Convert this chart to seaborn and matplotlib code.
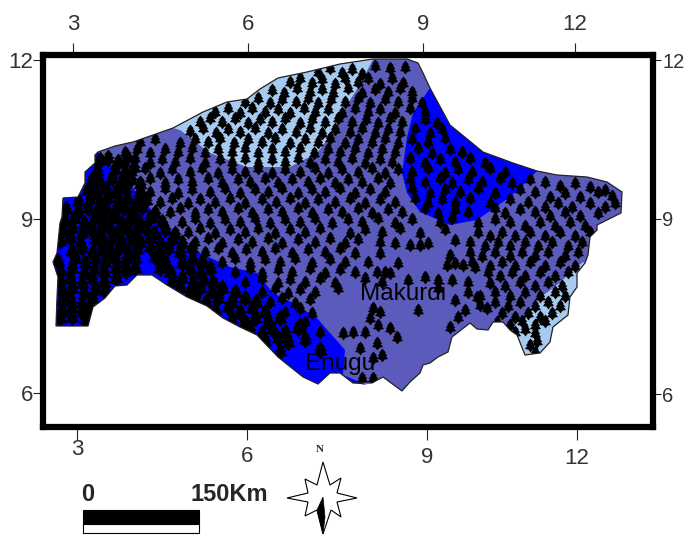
import pandas as pd
import matplotlib
matplotlib.use('Agg')
import matplotlib.pyplot as plt
import seaborn as sns
from matplotlib.path import Path
from matplotlib.patches import Polygon

# map units below are the sheet's own grid, the graticule labels sit at uneven places on it
outline = [(95,155),(98,152),(115,146),(133,142),(173,128),(203,112),(227,102),(247,99),(260,89),(278,78),
           (307,72),(340,64),(373,59),(407,59),(418,63),(423,73),(430,88),(450,125),(483,152),(513,163),
           (537,171),(557,175),(587,177),(607,182),(622,192),(621,213),(597,225),(597,230),(590,237),(588,255),
           (585,263),(577,273),(577,287),(570,297),(568,315),(553,327),(550,342),(540,353),(525,355),(517,335),
           (510,330),(503,322),(493,322),(488,330),(477,329),(470,323),(452,337),(448,352),(438,357),(430,363),
           (423,365),(420,373),(410,382),(402,391),(383,377),(372,383),(353,383),(340,373),(330,373),(318,384),
           (303,377),(278,357),(257,335),(240,327),(223,318),(207,306),(187,297),(167,285),(152,275),(137,275),
           (127,285),(115,286),(105,298),(93,307),(88,326),(56,326),(57,298),(58,277),(53,262),(57,253),
           (60,223),(62,217),(63,198),(78,197),(85,183),(85,172),(95,163)]
blue_west = [(95,155),(98,152),(120,173),(140,197),(163,223),(180,240),(200,253),(230,267),(257,273),(273,293),
             (293,303),(317,318),(330,333),(345,350),(343,375),(367,385),(353,383),(340,373),(330,373),(318,384),
             (303,377),(278,357),(257,335),(240,327),(223,318),(207,306),(187,297),(167,285),(152,275),(137,275),
             (127,285),(115,286),(105,298),(93,307),(88,326),(56,326),(57,298),(58,277),(53,262),(57,253),
             (60,223),(62,217),(63,198),(78,197),(85,183),(85,172),(95,163)]
blue_centre = [(430,88),(413,113),(407,137),(402,173),(407,193),(420,212),(450,225),(477,220),(510,197),(525,183),
               (537,171),(513,163),(483,152),(450,125)]
light_north = [(173,128),(180,130),(210,153),(247,167),(290,167),(317,153),(335,130),(350,100),(360,85),(373,59),
               (340,64),(307,72),(278,78),(260,89),(247,99),(227,102),(203,112)]
light_south = [(583,262),(557,285),(537,300),(522,318),(510,330),(517,335),(525,355),(540,353),(550,342),(553,327),
               (568,315),(570,297),(577,287),(577,273),(585,263)]

trees_west = [(100,160),(108,158),(118,162),(127,157),(97,171),(115,169),(125,172),(134,167),(92,180),(100,183),
              (112,178),(122,182),(131,179),(140,184),(88,190),(97,193),(106,189),(116,192),(125,188),(140,192),
              (78,201),(90,199),(100,203),(108,198),(118,202),(127,199),(136,204),(146,200),(66,209),(78,212),
              (88,208),(97,212),(106,209),(115,213),(124,208),(133,211),(142,207),(155,213),(64,221),(74,218),
              (84,223),(94,219),(103,222),(112,218),(121,223),(130,219),(139,222),(150,218),(162,222),(62,231),
              (72,228),(82,233),(91,229),(100,232),(109,228),(118,233),(127,229),(136,232),(145,228),(154,233),
              (165,229),(175,234),(60,241),(70,238),(80,243),(95,239),(104,242),(113,238),(122,243),(131,239),
              (140,242),(150,238),(160,243),(172,239),(182,243),(72,251),(82,248),(92,253),(101,249),(110,252),
              (119,248),(128,253),(137,249),(150,247),(160,252),(168,248),(180,252),(192,248),(58,261),(75,258),
              (85,263),(95,259),(105,262),(115,258),(125,263),(135,258),(155,257),(165,262),(182,263),(192,259),
              (202,262),(60,271),(72,268),(84,273),(94,269),(104,272),(116,268),(126,271),(135,268),(160,268),
              (170,272),(190,269),(200,273),(210,268),(60,281),(70,278),(82,283),(92,279),(104,282),(116,278),
              (172,281),(182,278),(193,283),(203,279),(213,282),(62,291),(72,288),(84,293),(95,289),(105,291),
              (180,288),(190,292),(200,288),(212,291),(222,288),(235,292),(62,301),(70,298),(82,303),(92,298),
              (195,298),(206,302),(218,298),(232,302),(245,298),(256,302),(62,311),(72,308),(82,312),(90,308),
              (215,310),(228,307),(240,312),(252,308),(265,312),(60,318),(72,317),(85,319),(232,319),(245,322),
              (255,318),(268,322),(280,318),(250,330),(262,333),(272,329),(285,332),(298,328),(265,341),(278,338),
              (288,342),(305,339),(280,351),(300,326),(320,350)]

trees_main = [(318,72),(330,68),(342,73),(352,69),(362,74),(375,66),(390,68),(405,67),(290,82),(300,78),(312,83),(322,79),(335,84),
              (345,78),(358,82),(368,78),(380,84),(392,78),(403,83),(272,90),(284,93),(297,88),(310,92),(322,89),
              (333,93),(348,88),(362,93),(375,89),(388,92),(400,88),(412,92),(245,102),(258,98),(270,103),(282,99),
              (296,102),(308,98),(318,103),(331,99),(345,102),(358,98),(370,103),(385,99),(398,102),(412,98),
              (422,103),(215,112),(228,108),(240,113),(252,108),(265,112),(278,109),(290,113),(304,108),(315,112),
              (328,109),(342,113),(355,108),(368,112),(380,109),(395,113),(410,108),(425,112),(200,122),(210,118),
              (222,122),(235,118),(248,123),(260,119),(272,122),(285,118),(300,123),(312,119),(325,122),(338,118),
              (352,122),(366,119),(378,123),(390,118),(402,122),(425,119),(437,123),(190,131),(203,128),(216,133),
              (228,129),(240,132),(255,128),(268,133),(282,129),(296,132),(310,128),(322,133),(335,129),(350,132),
              (362,128),(375,133),(388,129),(400,132),(415,128),(430,133),(442,129),(140,142),(155,139),(180,143),
              (195,139),(208,142),(220,138),(234,143),(248,139),(262,142),(275,138),(290,143),(305,139),(318,142),
              (330,138),(345,143),(358,139),(372,142),(385,138),(398,143),(412,139),(428,142),(445,138),(125,152),
              (137,149),(150,153),(165,149),(178,152),(192,148),(205,153),(218,149),(232,152),(245,148),(258,153),
              (272,149),(285,152),(300,148),(314,153),(328,149),(340,152),(355,148),(368,153),(382,149),(395,152),
              (418,148),(432,153),(450,149),(462,152),(125,162),(135,158),(150,163),(162,159),(175,162),(190,158),
              (205,163),(220,159),(232,162),(245,158),(258,163),(272,159),(285,162),(298,158),(310,163),(325,159),
              (338,162),(352,158),(365,163),(380,159),(392,162),(410,158),(425,163),(440,159),(455,162),(470,158),
              (485,163),(132,172),(145,168),(160,173),(172,169),(190,172),(202,168),(218,173),(232,169),(245,172),
              (258,168),(272,173),(285,169),(300,172),(315,168),(328,173),(342,169),(358,172),(372,168),(385,173),
              (398,169),(412,172),(428,168),(445,173),(458,169),(472,172),(490,168),(505,172),(140,182),(150,178),
              (165,183),(178,179),(192,182),(208,178),(222,183),(238,179),(250,182),(265,178),(278,183),(292,179),
              (308,182),(320,178),(335,183),(348,179),(362,182),(378,178),(390,183),(410,179),(425,182),(440,178),
              (452,183),(468,179),(482,182),(500,178),(512,183),(530,179),(545,182),(560,186),(575,183),(590,187),
              (605,190),(150,192),(165,188),(178,193),(192,189),(210,192),(225,188),(240,193),(255,189),(268,192),
              (282,188),(298,193),(312,189),(325,192),(340,188),(355,193),(370,189),(385,192),(412,188),(430,193),
              (445,189),(460,192),(478,188),(495,193),(520,189),(535,192),(550,197),(565,193),(580,197),(598,192),
              (612,196),(160,202),(172,198),(188,203),(200,199),(215,202),(230,198),(245,203),(262,199),(276,202),
              (290,198),(305,203),(318,199),(335,202),(350,198),(365,203),(380,199),(395,202),(415,198),(428,203),
              (442,199),(455,202),(470,198),(490,203),(510,199),(528,202),(545,207),(558,203),(572,207),(590,203),
              (605,207),(615,203),(170,212),(180,208),(195,213),(208,209),(222,212),(238,208),(252,213),(268,209),
              (282,212),(298,208),(312,213),(328,209),(342,212),(358,208),(372,213),(388,209),(402,212),(425,208),
              (438,213),(455,209),(468,212),(495,208),(505,213),(520,209),(535,212),(550,216),(565,212),(580,216),
              (598,213),(182,222),(195,218),(210,223),(225,219),(240,222),(255,218),(270,223),(285,219),(300,222),
              (315,218),(332,223),(348,219),(362,222),(378,218),(395,223),(412,219),(440,222),(452,218),(478,223),
              (495,219),(510,222),(525,226),(540,222),(555,226),(570,222),(585,226),(188,232),(200,228),(215,233),
              (230,229),(245,232),(258,228),(275,233),(290,229),(305,232),(320,228),(350,233),(365,229),(382,232),
              (400,228),(420,233),(445,229),(478,232),(490,236),(502,232),(515,236),(530,232),(545,236),(560,232),
              (575,236),(590,232),(195,242),(208,238),(222,243),(238,239),(252,242),(268,238),(282,243),(298,239),
              (315,242),(330,238),(345,243),(358,239),(380,242),(395,243),(410,245),(420,245),(428,243),(455,240),
              (470,242),(485,246),(498,242),(510,246),(525,242),(538,246),(552,242),(568,246),(582,242),(205,252),
              (218,248),(232,253),(246,249),(262,252),(275,248),(292,253),(308,249),(325,252),(340,248),(355,253),
              (380,253),(450,255),(470,252),(482,256),(495,252),(510,256),(522,252),(535,256),(548,252),(565,256),
              (578,252),(222,262),(235,258),(250,263),(265,259),(280,262),(295,258),(312,263),(330,259),(345,262),
              (368,262),(398,263),(447,265),(455,263),(472,262),(490,266),(502,262),(515,266),(530,262),(545,266),
              (560,262),(575,266),(235,272),(250,268),(262,273),(278,269),(292,272),(310,268),(325,273),(340,269),
              (355,272),(377,272),(385,272),(390,273),(463,265),(475,267),(488,272),(500,276),(512,272),(525,276),
              (540,272),(555,276),(568,272),(245,282),(262,278),(278,283),(290,279),(305,282),(320,278),(335,283),
              (365,278),(382,282),(408,280),(425,277),(438,280),(452,280),(468,282),(490,283),(505,286),(520,282),
              (535,286),(548,282),(562,286),(262,292),(275,288),(288,293),(300,289),(315,292),(338,288),(438,288),
              (468,292),(480,296),(495,292),(510,296),(525,292),(540,296),(555,292),(565,296),(270,302),(282,298),
              (295,303),(310,299),(455,300),(477,297),(495,302),(508,306),(520,302),(535,306),(548,302),(560,306),
              (285,312),(300,308),(312,313),(373,308),(380,312),(418,310),(465,310),(480,305),(487,308),(502,313),
              (515,317),(528,313),(540,317),(552,313),(305,322),(370,318),(378,325),(458,317),(497,322),(510,325),
              (522,321),(535,325),(545,321),(320,332),(353,332),(365,332),(343,333),(390,328),(397,337),(450,327),
              (515,332),(525,329),(535,333),(377,343),(530,345),(537,341),(360,348),(382,355),(373,358),(535,352),
              (373,378),(362,378)]

top_ticks = [73, 248, 423, 575]
bottom_ticks = [77, 247, 427, 577]
left_ticks = [60, 219, 393]
right_ticks = [60, 219, 394]
lon_labels = ['3', '6', '9', '12']
lat_labels = ['12', '9', '6']
towns = ['Makurdi', 'Enugu']
town_x = [360, 305]
town_y = [300, 370]

star = [(323,462),(330,485),(341,478),(337,493),(357,498),(337,502),(341,517),(331,510),(323,534),(317,510),
        (305,516),(308,502),(287,498),(308,493),(305,479),(317,485)]
star_dark = [(323,497),(317,510),(323,534),(325,517)]

sns.set_style('white')
plt.rcParams['font.family'] = ['Liberation Sans', 'DejaVu Sans']

tree = Path([(0,-1),(-.3,-.6),(-.8,-.5),(-.45,-.05),(-.7,-.05),(-.35,.4),(-.5,.4),(0,1),
             (.5,.4),(.35,.4),(.7,-.05),(.45,-.05),(.8,-.5),(.3,-.6),(0,-1)], closed=True)

fig = plt.figure(figsize=(6.87, 5.36), dpi=100)
ax = fig.add_axes([43/687, 1-426.5/536, 610/687, 371.5/536])
ax.set_xlim(43, 653)
ax.set_ylim(426.5, 55)

land = Polygon(outline, closed=True, fc='#5B5BBB', ec='none', zorder=1)
ax.add_patch(land)
ax.add_patch(Polygon(blue_west, closed=True, fc='#0000FF', ec='none', zorder=2))
ax.add_patch(Polygon(blue_centre, closed=True, fc='#0000FF', ec='none', zorder=2))
ax.add_patch(Polygon(light_north, closed=True, fc='#A6CAF0', ec='none', zorder=2))
ax.add_patch(Polygon(light_south, closed=True, fc='#A6CAF0', ec='none', zorder=2))

west_df = pd.DataFrame(trees_west, columns=['x', 'y'])
main_df = pd.DataFrame(trees_main, columns=['x', 'y'])
sns.scatterplot(x='x', y='y', data=west_df, marker=tree, s=165, color='black', linewidth=0, ax=ax, zorder=3)
sns.scatterplot(x='x', y='y', data=main_df, marker=tree, s=100, color='black', linewidth=0, ax=ax, zorder=3)
ax.set_xlabel('')
ax.set_ylabel('')
for coll in ax.collections:
    coll.set_clip_path(land)

ax.add_patch(Polygon(outline, closed=True, fc='none', ec='#222222', lw=0.9, zorder=4))

for name, tx, ty in zip(towns, town_x, town_y):
    ax.text(tx, ty, name, fontsize=17.5, color='black', va='baseline', zorder=5)

for s in ax.spines.values():
    s.set_linewidth(4.5)
    s.set_color('black')

ax.set_xticks(bottom_ticks, lon_labels)
ax.set_yticks(left_ticks, lat_labels)
ax.tick_params(axis='x', bottom=True, length=9.7, width=0.8, color='#222222', labelsize=16, labelcolor='#333333', pad=-1)
ax.tick_params(axis='y', left=True, length=7.2, width=0.8, color='#222222', labelsize=16, labelcolor='#333333', pad=0)
for tick, pad in zip(ax.xaxis.get_major_ticks(), [-1, 4, 5, 6]):
    tick.set_pad(pad)

top = ax.secondary_xaxis('top')
top.set_xticks(top_ticks, lon_labels)
top.tick_params(length=8.6, width=0.8, color='#222222', labelsize=16, labelcolor='#333333', pad=6)
top.spines['top'].set_visible(False)
right = ax.secondary_yaxis('right')
right.set_yticks(right_ticks, lat_labels)
right.tick_params(length=6, width=0.8, color='#222222', labelsize=14.5, labelcolor='#333333', pad=0.5)
right.spines['right'].set_visible(False)

# scale bar and north arrow sit below the frame
ax.add_patch(plt.Rectangle((83, 510), 116, 14, fc='black', ec='black', lw=0.8, clip_on=False))
ax.add_patch(plt.Rectangle((83, 524), 116, 9, fc='white', ec='black', lw=0.8, clip_on=False))
ax.text(88, 501, '0', fontsize=17, fontweight='bold', ha='center', va='baseline', clip_on=False)
ax.text(190, 501, '150Km', fontsize=17, fontweight='bold', ha='left', va='baseline', clip_on=False)
ax.add_patch(Polygon(star, closed=True, fc='white', ec='black', lw=0.8, clip_on=False))
ax.add_patch(Polygon(star_dark, closed=True, fc='black', ec='black', lw=0.5, clip_on=False))
ax.text(320, 449, 'N', fontsize=8, fontweight='bold', family='Liberation Serif', ha='center', va='center', clip_on=False)

fig.savefig('out.png', dpi=100)
